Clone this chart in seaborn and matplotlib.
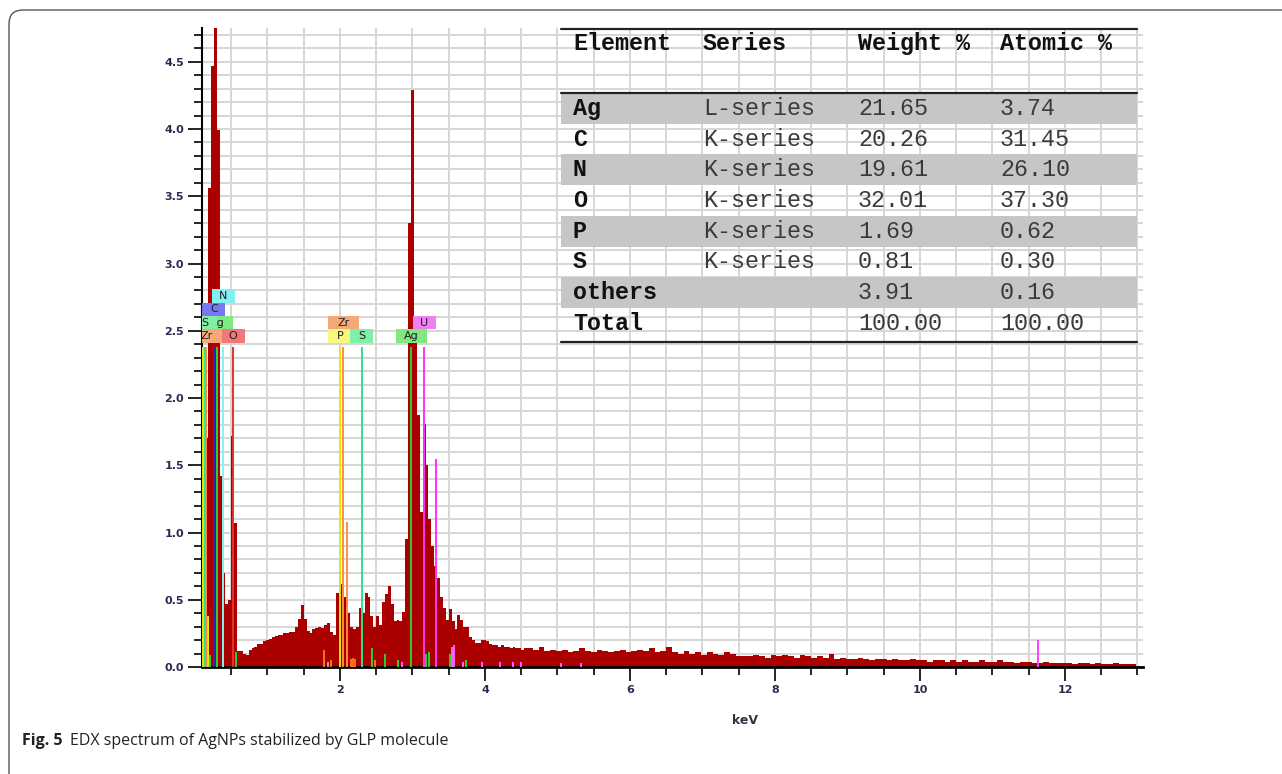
import numpy as np
import pandas as pd
import matplotlib
matplotlib.use("Agg")
import matplotlib.pyplot as plt
import seaborn as sns
from matplotlib.patches import Rectangle, FancyBboxPatch
from matplotlib.lines import Line2D
from matplotlib.ticker import MultipleLocator, FormatStrFormatter

# ---------------- data ----------------
lo_start, lo_step = 0.10, 0.04
counts_lo = [
    0.90, 1.70, 3.56, 4.47, 4.95, 3.99, 1.42, 0.70, 0.47, 0.50,   # 0.10-0.46
    1.72, 1.07, 0.12, 0.12, 0.10, 0.09, 0.13, 0.14, 0.15, 0.17,   # 0.50-0.86
    0.17, 0.19, 0.20, 0.21, 0.22, 0.23, 0.24, 0.24, 0.25, 0.25,   # 0.90-1.26
    0.26, 0.26, 0.30, 0.36, 0.46, 0.36, 0.27, 0.25, 0.28, 0.29,   # 1.30-1.66
    0.30, 0.29, 0.31, 0.33, 0.26, 0.24, 0.55, 0.79, 0.62, 0.52,   # 1.70-2.06
    0.40, 0.30, 0.28, 0.30, 0.44, 0.40, 0.55, 0.52, 0.38, 0.30,   # 2.10-2.46
    0.38, 0.31, 0.48, 0.54, 0.60, 0.47, 0.34, 0.35, 0.34, 0.41,   # 2.50-2.86
    0.95, 3.30, 4.29, 2.50, 1.87, 1.15, 1.81, 1.50, 1.10, 0.90,   # 2.90-3.26
    0.75, 0.66, 0.52, 0.44, 0.35, 0.43, 0.34, 0.28, 0.39, 0.35,   # 3.30-3.66
    0.30, 0.30, 0.22, 0.20, 0.18, 0.18, 0.20, 0.20, 0.19, 0.17,   # 3.70-4.06
    0.16, 0.16, 0.15, 0.16, 0.15, 0.15, 0.14, 0.15, 0.14, 0.14,   # 4.10-4.46
    0.13, 0.14,                                                   # 4.50-4.54
]
tail_start, tail_step = 4.58, 0.08
counts_tail = [
    0.14, 0.13, 0.15, 0.12, 0.13, 0.12,
    0.13, 0.11, 0.12, 0.14, 0.12, 0.11, 0.13,
    0.12, 0.11, 0.12, 0.13, 0.11, 0.12,
    0.13, 0.12, 0.14, 0.11, 0.12, 0.15, 0.11,
    0.10, 0.12, 0.10, 0.11, 0.09, 0.11,
    0.10, 0.09, 0.11, 0.10, 0.08, 0.08,
    0.08, 0.09, 0.08, 0.07, 0.09, 0.08,
    0.09, 0.08, 0.07, 0.09, 0.08, 0.07,
    0.08, 0.07, 0.10, 0.06, 0.07, 0.06,
    0.06, 0.07, 0.06, 0.05, 0.06, 0.06,
    0.05, 0.06, 0.05, 0.05, 0.06, 0.05,
    0.05, 0.04, 0.05, 0.05, 0.04, 0.05,
    0.04, 0.05, 0.04, 0.04, 0.05, 0.04,
    0.04, 0.05, 0.04, 0.04, 0.03, 0.04,
    0.04, 0.03, 0.03, 0.04, 0.03, 0.03,
    0.03, 0.03, 0.02, 0.03, 0.03, 0.02,
    0.03, 0.02, 0.02, 0.03, 0.02, 0.02,
    0.02,
]

# element marker lines (keV, height, colour)
line_E = [0.115, 0.14, 0.15, 0.26, 0.30, 0.39, 0.525, 2.00, 2.045, 2.30, 2.975, 3.165, 3.33, 2.09]
line_h = [2.38, 2.38, 2.38, 2.38, 2.38, 2.38, 2.38, 2.38, 2.38, 2.38, 2.38, 2.38, 1.55, 1.08]
line_c = ["#e8e800", "#30e090", "#ff8c40", "#2828c8", "#30d030", "#80f4f4", "#e83030",
          "#e8e800", "#ff8c40", "#30e090", "#30d030", "#ff30ff", "#ff30ff", "#ff8c40"]

# minor line markers
minor_E = [0.18, 0.21, 0.57, 1.775, 1.83, 1.87, 2.15, 2.18, 2.21, 2.44, 2.48, 2.62, 2.80, 2.855,
           3.19, 3.23, 3.52, 3.55, 3.57, 3.70, 3.74, 3.96, 4.21, 4.39, 4.50, 5.05, 5.33, 11.63]
minor_h = [0.38, 0.09, 0.11, 0.125, 0.04, 0.055, 0.06, 0.07, 0.06, 0.14, 0.05, 0.10, 0.05, 0.04,
           0.10, 0.11, 0.10, 0.15, 0.16, 0.04, 0.05, 0.04, 0.04, 0.04, 0.04, 0.03, 0.03, 0.20]
minor_c = ["#e8e800", "#30d030", "#30d030", "#ff7020", "#c8a0a0", "#ff7020", "#ff7020", "#ff7020",
           "#ff7020", "#30d030", "#ff7020", "#30d030", "#30d030", "#ff60ff",
           "#30d030", "#30d030", "#30d030", "#ff60ff", "#ff60ff", "#ff60ff", "#30d030", "#ff60ff",
           "#ff60ff", "#ff60ff", "#ff60ff", "#ff60ff", "#ff60ff", "#ff40ff"]

# element label boxes (later entries drawn on top)
labels = ["Zr", "O", "Ag", "S", "C", "N", "P", "S", "Zr", "Ag", "U"]
label_E = [0.155, 0.525, 0.31, 0.14, 0.26, 0.39, 2.00, 2.30, 2.045, 2.98, 3.165]
label_row = [0, 0, 1, 1, 2, 3, 0, 0, 1, 0, 1]
label_c = ["#f6a878", "#f07878", "#80e880", "#80f0a8", "#7878f0", "#80f0f0",
           "#f8f880", "#80f0a8", "#f6a878", "#80e880", "#f080f0"]

# table
tab_header = ["Element", "Series", "Weight %", "Atomic %"]
tab_elem = ["Ag", "C", "N", "O", "P", "S", "others", "Total"]
tab_series = ["L-series", "K-series", "K-series", "K-series", "K-series", "K-series", "", ""]
tab_weight = ["21.65", "20.26", "19.61", "32.01", "1.69", "0.81", "3.91", "100.00"]
tab_atomic = ["3.74", "31.45", "26.10", "37.30", "0.62", "0.30", "0.16", "100.00"]

x_label = "keV"
cap_bold = "Fig. 5"
cap_text = "EDX spectrum of AgNPs stabilized by GLP molecule"

# ---------------- figure ----------------
sns.set_theme(style="white")
plt.rcParams["font.family"] = ["DejaVu Sans"]

W, H = 1282, 774
fig = plt.figure(figsize=(W / 100, H / 100), dpi=100)
fx = lambda px: px / W
fy = lambda py: 1 - py / H

ax = fig.add_axes([fx(202), fy(667), (1143 - 202) / W, (667 - 28) / H])
ax.set_facecolor("white")

lo_edges = np.round(lo_start + lo_step * np.arange(len(counts_lo) + 1), 4)
tail_edges = np.round(tail_start + tail_step * np.arange(1, len(counts_tail) + 1), 4)
edges = np.concatenate([lo_edges, tail_edges])
spec = pd.DataFrame({"energy": (edges[:-1] + edges[1:]) / 2,
                     "counts": counts_lo + counts_tail})

sns.histplot(data=spec, x="energy", weights="counts", bins=edges.tolist(), element="step",
             fill=True, color="#aa0000", alpha=1, linewidth=0, ax=ax, zorder=2)

ax.vlines(minor_E, 0, minor_h, colors=minor_c, lw=1.4, zorder=3)
ax.vlines(line_E, 0, line_h, colors=line_c, lw=1.4, zorder=3)

row_base = 2.41
row_h = 0.10
for i, (lab, e, r, c) in enumerate(zip(labels, label_E, label_row, label_c)):
    w = (15 + 8 * len(lab)) / 72.5
    y0 = row_base + r * row_h
    z = 4 + 0.1 * i
    ax.add_patch(Rectangle((e - w / 2, y0), w, row_h, facecolor=c, edgecolor="none",
                           zorder=z, clip_on=True))
    ax.text(e, y0 + row_h / 2, lab, ha="center", va="center", fontsize=8,
            color="#202020", zorder=z + 0.05, clip_on=True)

ax.set_xlim(0.0966, 13.076)
ax.set_ylim(0, 4.751)
ax.xaxis.set_major_locator(MultipleLocator(2))
ax.xaxis.set_minor_locator(MultipleLocator(0.5))
ax.yaxis.set_major_locator(MultipleLocator(0.5))
ax.yaxis.set_minor_locator(MultipleLocator(0.1))
ax.yaxis.set_major_formatter(FormatStrFormatter("%.1f"))
ax.xaxis.set_major_formatter(FormatStrFormatter("%d"))
ax.grid(which="both", color="#d6d6d6", lw=1.4)
ax.set_axisbelow(True)
ax.tick_params(which="major", direction="out", length=10, width=1.2, color="black",
               labelsize=8, labelcolor="#2a2a50", pad=3, left=True, bottom=True)
ax.tick_params(which="minor", direction="out", length=6, width=1.2, color="black",
               left=True, bottom=True)
for t in ax.get_xticklabels() + ax.get_yticklabels():
    t.set_fontweight("bold")
for s in ["top", "right"]:
    ax.spines[s].set_visible(False)
ax.spines["left"].set_color("black")
ax.spines["left"].set_linewidth(1.5)
ax.spines["bottom"].set_color("black")
ax.spines["bottom"].set_linewidth(2)
ax.set_xlabel("")
ax.set_ylabel("")

fig.text(fx(745), fy(721), x_label, ha="center", va="center", fontsize=9,
         fontweight="bold", color="#333344")

# ---------------- table ----------------
tx0, tx1 = 561, 1137
band_rows = [0, 2, 4, 6]
row_c = [108.3 + 30.7 * i for i in range(8)]
for i in band_rows:
    fig.add_artist(Rectangle((fx(tx0), fy(row_c[i] + 15.5)), (tx1 - tx0) / W, 31 / H,
                             transform=fig.transFigure, facecolor="#c6c6c6",
                             edgecolor="none", zorder=1))
for yy in [29, 93, 342]:
    fig.add_artist(Line2D([fx(tx0), fx(tx1)], [fy(yy), fy(yy)], transform=fig.transFigure,
                          color="#222222", lw=1.6, zorder=2))
col_x = [573, 703, 858, 1000]
mono = "Liberation Mono"
fs = 16.8
for cx, hdr in zip(col_x, tab_header):
    fig.text(fx(cx), fy(43.5 + 6.5), hdr, family=mono, fontsize=fs, fontweight="bold",
             color="#111111", va="baseline", zorder=3)
for i in range(len(tab_elem)):
    yb = fy(row_c[i] + 6.5)
    fig.text(fx(col_x[0]), yb, tab_elem[i], family=mono, fontsize=fs, fontweight="bold",
             color="#111111", va="baseline", zorder=3)
    for cx, val in zip(col_x[1:], [tab_series[i], tab_weight[i], tab_atomic[i]]):
        fig.text(fx(cx), yb, val, family=mono, fontsize=fs, color="#3a3a3a",
                 va="baseline", zorder=3)

# ---------------- caption & frame ----------------
cap_font = ["Open Sans", "DejaVu Sans"]
tb = fig.text(fx(22), fy(745), cap_bold, family=cap_font, fontsize=11.5, fontweight="bold",
              color="#222222", va="baseline")
fig.canvas.draw()
bb = tb.get_window_extent()
fig.text((bb.x1 + 7) / W, fy(745), cap_text, family=cap_font, fontsize=11.5,
         color="#222222", va="baseline")

frame = FancyBboxPatch((0.09, -0.3), 13.5, (774 - 10) / 100 + 0.3,
                       boxstyle="round,pad=0,rounding_size=0.14",
                       transform=fig.dpi_scale_trans, facecolor="none",
                       edgecolor="#555555", lw=1.0)
fig.add_artist(frame)

fig.savefig("out.png", dpi=100, facecolor="white")
